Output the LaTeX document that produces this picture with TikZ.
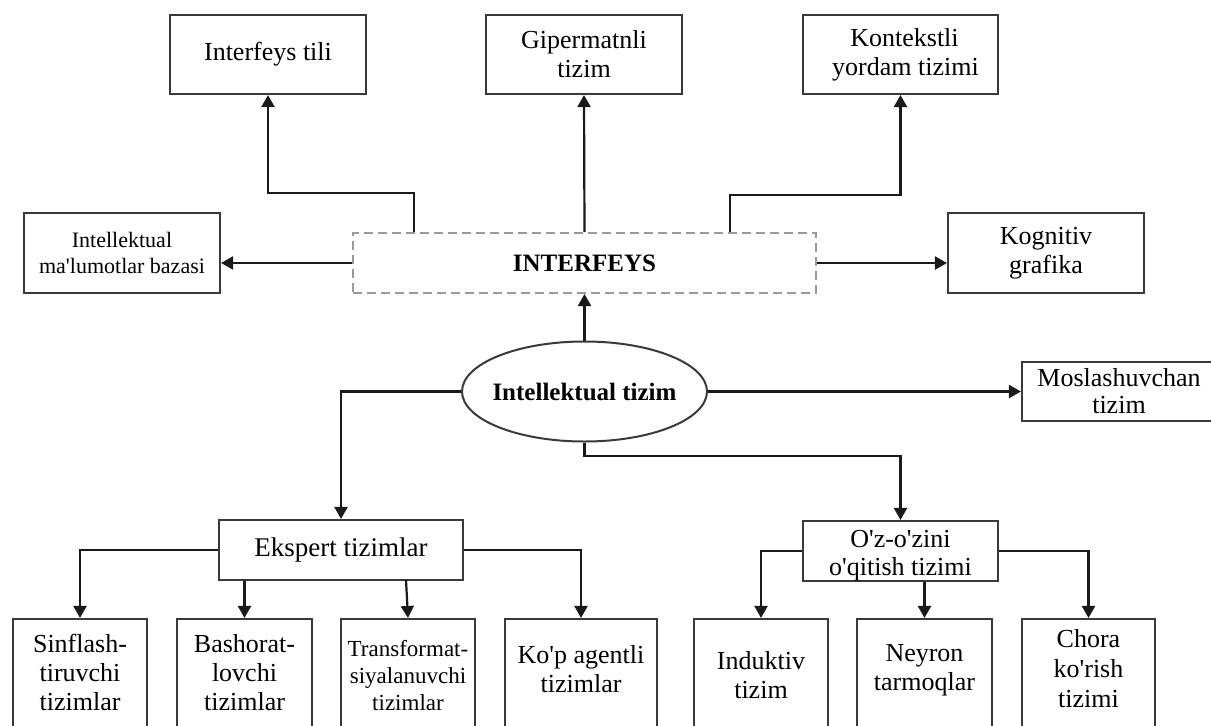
\documentclass[tikz,border=0pt]{standalone}
\usepackage{fontspec}
\setmainfont{Liberation Serif}[Ligatures=TeXOff]
\usetikzlibrary{arrows.meta,shapes.geometric}
\definecolor{boxc}{HTML}{3A3A3A}
\definecolor{linec}{HTML}{1A1A1A}
\definecolor{dashc}{HTML}{9A9A9A}
\newcommand\fsmain{\fontsize{26}{29}\selectfont}
\newcommand\fssmall{\fontsize{22}{26}\selectfont}
\newcommand\fstrans{\fontsize{23}{27}\selectfont}
\newcommand\fsbold{\fontsize{25}{29}\selectfont\bfseries}
\begin{document}
\begin{tikzpicture}[x=1pt,y=-1pt,
  box/.style={draw=boxc,line width=2.1pt,rectangle,inner sep=0pt,align=center,font=\fsmain},
  dbox/.style={draw=dashc,line width=2pt,dash pattern=on 9pt off 5pt,rectangle,inner sep=0pt,align=center,font=\fsbold},
  ell/.style={draw=boxc,line width=2pt,ellipse,inner xsep=-30pt,inner ysep=0pt,font=\fsbold},
  arr/.style={draw=linec,line width=2.2pt,-{Triangle[length=12pt,width=13pt]}}]
\useasboundingbox (0,0) rectangle (1211,726);
\clip (0,0) rectangle (1211,726);
\fill[white] (0,0) rectangle (1211,726);
% top row
\node[box,minimum width=196pt,minimum height=79pt] (it) at (268,54.5) {Interfeys tili};
\node[box,minimum width=196pt,minimum height=79pt] (gt) at (584,54.5) {Gipermatnli\\tizim};
\node[box,minimum width=195pt,minimum height=79pt] (kt) at (900.5,54.5) {\hspace*{8pt}Kontekstli\\\hspace*{10pt}yordam tizimi};
% second row
\node[box,font=\fssmall,minimum width=196pt,minimum height=80pt] (im) at (122,253) {Intellektual\\ma'lumotlar bazasi};
\node[dbox,minimum width=463pt,minimum height=60pt] (inter) at (584.5,263) {INTERFEYS};
\node[box,minimum width=196pt,minimum height=80pt] (kg) at (1046,253) {Kognitiv\\grafika};
% ellipse
\node[ell,minimum width=245pt,minimum height=100pt] (el) at (584.5,391.5) {Intellektual tizim};
\node[box,font=\fontsize{26}{27}\selectfont,minimum width=194pt,minimum height=59pt] (ms) at (1119,391.5) {Moslashuvchan\\tizim};
% third row
\node[box,font=\fontsize{27}{29}\selectfont,minimum width=244pt,minimum height=60pt] (ek) at (341,550) {Ekspert tizimlar};
\node[box,font=\fontsize{26}{28}\selectfont,minimum width=195pt,minimum height=60pt] (oz) at (900.5,551) {O'z-o'zini\\o'qitish tizimi\\[-31pt]};
% bottom row
\node[box,minimum width=134pt,minimum height=113pt] (s1) at (80,675.5) {Sinflash-\\tiruvchi\\tizimlar\\[-23pt]};
\node[box,minimum width=135pt,minimum height=113pt] (s2) at (244.5,675.5) {Bashorat-\\lovchi\\tizimlar\\[-23pt]};
\node[box,font=\fstrans,minimum width=134pt,minimum height=113pt] (s3) at (408,675.5) {Transformat-\\siyalanuvchi\\tizimlar};
\node[box,minimum width=152pt,minimum height=113pt] (s4) at (581,675.5) {Ko'p agentli\\tizimlar\\[-15pt]};
\node[box,minimum width=134pt,minimum height=113pt] (s5) at (761,675.5) {Induktiv\\tizim};
\node[box,minimum width=135pt,minimum height=113pt] (s6) at (924.5,675.5) {Neyron\\tarmoqlar\\[-13pt]};
\node[box,font=\fontsize{26}{30}\selectfont,minimum width=133pt,minimum height=113pt] (s7) at (1088.5,675.5) {Chora\\ko'rish\\tizimi\\[-16pt]};
% junction coordinates
\coordinate (j1) at (414,193);
\coordinate (j2) at (730,195);
\coordinate (j3) at (584.5,456);
\coordinate (j4) at (406,580);
% connectors
\draw[arr] (inter.north -| j1) -- (j1) -| (it.south);
\draw[arr] (inter.north) -- (gt.south);
\draw[arr] (inter.north -| j2) -- (j2) -| (kt.south);
\draw[arr] (inter.west) -- (im.east |- inter.west);
\draw[arr] (inter.east) -- (kg.west |- inter.east);
\draw[arr] (el.north) -- (inter.south);
\draw[arr] (el.east) -- (ms.west);
\draw[arr] (el.west) -| (ek.north);
\draw[arr] (el.south) -- (j3) -| (oz.north);
\draw[arr] (ek.west) -| (s1.north);
\draw[arr] (ek.east) -| (s4.north);
\draw[arr] (ek.south -| s2.north) -- (s2.north);
\draw[arr] (j4) -- (s3.north);
\draw[arr] (oz.west) -| (s5.north);
\draw[arr] (oz.east) -| (s7.north);
\draw[arr] (oz.south -| s6.north) -- (s6.north);
\end{tikzpicture}
\end{document}
